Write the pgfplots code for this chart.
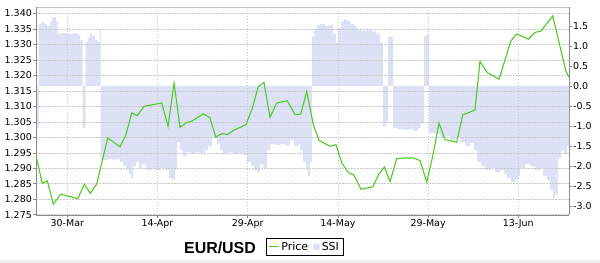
\documentclass[border=0pt]{standalone}
\usepackage{pgfplots}
\pgfplotsset{compat=1.18}
\usepackage{pgfplotstable}
\usepackage{fontspec}
\setmainfont{DejaVu Sans}
\newfontfamily\titlefont{Liberation Sans}
\definecolor{pricegreen}{RGB}{77,204,38}
\definecolor{ssifill}{RGB}{221,225,245}
\definecolor{gridgray}{RGB}{200,200,200}
\definecolor{axisgray}{RGB}{140,140,140}

\pgfplotstableread{
d ssi
-5.21 -1.05
-4.79 1.55
-4.37 1.60
-3.87 1.55
-3.38 1.50
-2.88 1.60
-2.54 1.70
-2.21 1.72
-1.88 1.60
-1.63 1.30
-0.88 1.32
-0.22 1.30
0.45 1.30
1.11 1.31
1.78 1.28
2.11 1.14
2.53 -1.05
3.03 1.10
3.44 1.20
3.78 1.30
4.11 1.25
4.61 1.15
5.11 1.10
5.36 1.40
5.52 -1.84
6.10 -1.85
6.77 -1.82
7.43 -1.84
8.10 -1.83
8.76 -1.90
9.26 -2.00
9.76 -2.10
10.26 -2.20
10.59 -2.30
10.93 -2.00
11.43 -1.90
11.92 -2.05
12.42 -1.95
13.09 -2.10
13.75 -2.08
14.59 -2.10
15.42 -2.05
16.25 -2.10
16.91 -2.30
17.41 -2.34
17.91 -2.10
18.24 -1.40
18.74 -1.60
19.24 -1.75
19.74 -1.65
20.41 -1.68
21.24 -1.66
22.07 -1.68
22.90 -1.60
23.40 -1.50
24.06 -1.27
24.56 -1.30
24.90 -1.45
25.40 -1.60
25.89 -1.68
26.73 -1.66
27.56 -1.70
28.39 -1.68
29.22 -1.72
29.89 -1.90
30.55 -2.00
31.05 -2.10
31.55 -2.15
32.05 -1.95
32.55 -2.05
33.21 -1.60
33.71 -1.45
34.54 -1.47
35.37 -1.45
36.20 -1.48
37.04 -1.35
37.70 -1.50
38.37 -1.45
38.70 -1.60
39.20 -1.90
39.70 -2.10
40.03 -2.25
40.36 -1.90
40.65 1.23
41.03 1.40
41.48 1.52
42.03 1.55
42.86 1.50
43.69 1.52
44.19 1.30
44.69 1.07
45.02 1.45
45.52 1.60
46.02 1.66
46.52 1.62
47.01 1.55
47.68 1.50
48.18 1.40
49.01 1.38
49.84 1.40
50.67 1.36
51.34 1.30
52.00 1.07
52.50 -1.01
53.00 -0.90
53.33 1.23
54.17 -1.05
55.00 -1.08
55.83 -1.10
56.66 -1.07
57.49 -1.12
58.32 -1.05
58.74 -0.93
59.32 1.23
59.82 1.30
60.15 -1.17
61.15 -1.20
61.98 -1.30
62.81 -1.25
63.65 -1.35
64.48 -1.30
65.31 -1.40
66.14 -1.50
66.97 -1.42
67.64 -1.60
68.14 -1.90
68.80 -2.00
69.47 -2.10
70.30 -2.05
71.13 -2.15
71.96 -2.10
72.63 -2.20
73.13 -2.30
73.79 -2.40
74.46 -2.35
74.96 -2.25
75.29 -2.05
76.12 -1.95
76.95 -2.00
77.78 -2.10
78.61 -2.05
79.11 -2.25
79.78 -2.35
80.28 -2.60
80.78 -2.80
81.11 -2.70
81.61 -1.80
82.11 -1.60
82.60 -1.70
83.10 -1.50
83.43 -1.50
}\ssitable

\pgfplotstableread{
d price
-5.21 1.2941
-4.16 1.2851
-3.33 1.2859
-2.33 1.2784
-1.10 1.2816
1.73 1.2802
2.83 1.2848
3.83 1.2819
4.89 1.2849
6.72 1.2998
8.76 1.2969
9.71 1.3006
10.71 1.3079
11.64 1.3070
12.76 1.3100
15.70 1.3111
16.75 1.3035
17.75 1.3175
18.74 1.3032
19.86 1.3048
20.69 1.3052
22.62 1.3076
23.73 1.3063
24.68 1.3001
25.68 1.3012
26.61 1.3009
27.89 1.3025
29.72 1.3041
30.77 1.3095
31.77 1.3164
32.71 1.3177
33.71 1.3064
34.82 1.3111
36.59 1.3118
37.87 1.3073
38.82 1.3075
39.81 1.3148
40.91 1.3041
41.86 1.2990
43.67 1.2971
44.69 1.2976
45.63 1.2918
46.73 1.2886
47.68 1.2878
48.84 1.2832
50.79 1.2840
51.84 1.2882
52.72 1.2904
53.67 1.2857
54.78 1.2931
55.88 1.2933
57.54 1.2933
58.65 1.2925
59.77 1.2855
60.77 1.2939
61.82 1.3046
62.81 1.2993
64.76 1.2984
65.76 1.3073
66.69 1.3079
67.80 1.3089
68.63 1.3245
69.85 1.3209
71.80 1.3188
72.79 1.3250
73.74 1.3311
74.74 1.3334
76.67 1.3317
77.78 1.3339
78.73 1.3343
80.73 1.3392
81.94 1.3293
82.89 1.3216
83.43 1.3194
}\pricetable

\pgfplotsset{
  common/.style={
    at={(36bp,48bp)}, anchor=south west,
    scale only axis, width=533bp, height=208bp,
    xmin=-5.21, xmax=83.43,
    tick align=outside, major tick length=2.5bp,
    tick style={axisgray, line width=0.5bp},
    tick label style={font=\fontsize{9.5}{11}\selectfont},
  }
}

\begin{document}
\begin{tikzpicture}
\path[use as bounding box] (0,0) rectangle (600bp,263bp);
\fill[white] (0,0) rectangle (600bp,263bp);
\fill[gray!12] (0,0) rectangle (600bp,2.5bp);

\begin{axis}[common,
  ymin=-3.22, ymax=1.97,
  axis x line*=top, axis y line*=right,
  x axis line style={-, draw=gridgray, line width=0.8bp},
  y axis line style={-, draw=axisgray, line width=0.8bp},
  xtick=\empty,
  ytick={-3,-2.5,-2,-1.5,-1,-0.5,0,0.5,1,1.5},
  yticklabel style={inner sep=1.5bp, /pgf/number format/.cd, fixed, fixed zerofill, precision=1, assume math mode=true},
]
\addplot[const plot, fill=ssifill, draw=none] table[x=d, y=ssi] {\ssitable} \closedcycle;
\end{axis}

\begin{axis}[common,
  ymin=1.2749, ymax=1.3421,
  axis x line*=bottom, axis y line*=left,
  axis line style={-, draw=axisgray, line width=0.8bp},
  xtick={0,15,30,45,60,75},
  xticklabels={30-Mar,14-Apr,29-Apr,14-May,29-May,13-Jun},
  ytick={1.275,1.280,1.285,1.290,1.295,1.300,1.305,1.310,1.315,1.320,1.325,1.330,1.335,1.340},
  yticklabel style={inner sep=1.5bp, /pgf/number format/.cd, fixed, fixed zerofill, precision=3, assume math mode=true},
  xticklabel style={inner sep=2bp},
  grid=major,
  major grid style={gridgray, dash pattern=on 1.5bp off 1.5bp, line width=0.5bp},
  legend style={at={(0.4315,-0.1106)}, anchor=north west, draw=black, line width=0.7bp,
    font=\fontsize{11}{12}\selectfont, inner xsep=2bp, inner ysep=1.5bp,
    /tikz/every even column/.append style={column sep=3bp}},
  legend columns=-1,
  legend cell align=left,
]
\addplot[pricegreen, line width=1.1bp,
  legend image code/.code={\draw[pricegreen, line width=1bp] (0bp,0bp) -- (10bp,0bp);}]
  table[x=d, y=price] {\pricetable};
\addlegendentry{Price}
\addlegendimage{legend image code/.code={\fill[ssifill, rounded corners=1.5bp] (1bp,-3bp) rectangle (7bp,3bp);}}
\addlegendentry{SSI}
\end{axis}

\node[font=\titlefont\bfseries\fontsize{16}{18}\selectfont] at (220bp,15.5bp) {EUR/USD};
\end{tikzpicture}
\end{document}
